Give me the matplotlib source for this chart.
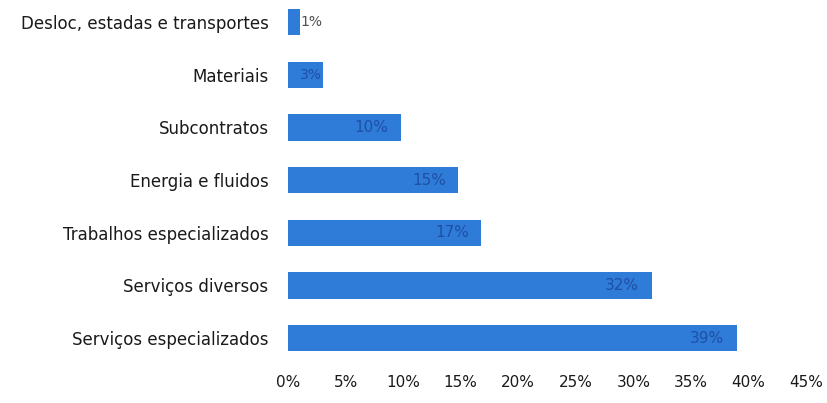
import matplotlib
matplotlib.use("Agg")
import matplotlib.pyplot as plt
from matplotlib.ticker import FuncFormatter

# Categories (top to bottom) and share of costs in %
categorias = [
    "Desloc, estadas e transportes",
    "Materiais",
    "Subcontratos",
    "Energia e fluidos",
    "Trabalhos especializados",
    "Serviços diversos",
    "Serviços especializados",
]
percentagens = [1, 3, 10, 15, 17, 32, 39]
# actual bar lengths (the labels are rounded)
valores = [1.0, 3.0, 9.8, 14.8, 16.8, 31.6, 39.0]
ticks = [0, 5, 10, 15, 20, 25, 30, 35, 40, 45]

plt.rcParams["font.family"] = ["DejaVu Sans"]

fig = plt.figure(figsize=(8.28, 4.03), dpi=100)
ax = fig.add_axes([288 / 828, 1 - 364 / 403, (806 - 288) / 828, 364 / 403])

barra = "#2e7bd8"
pos = list(range(len(categorias)))
ax.barh(pos, valores, height=0.5, color=barra)

for i, (v, p) in enumerate(zip(valores, percentagens)):
    if v < 2:
        ax.text(v + 0.1, i, f"{p}%", va="center", ha="left",
                fontsize=10, color="#505050")
    elif v < 5:
        ax.text(v - 0.1, i, f"{p}%", va="center", ha="right",
                fontsize=10, color="#1f4fa6")
    else:
        ax.text(v - 1.1, i, f"{p}%", va="center", ha="right",
                fontsize=11, color="#1f4fa6")

ax.set_xlim(0, 45)
ax.set_ylim(6.493, -0.418)
ax.set_xticks(ticks)
ax.xaxis.set_major_formatter(FuncFormatter(lambda x, _: f"{x:.0f}%"))
ax.set_yticks(pos)
ax.set_yticklabels(categorias)

for s in ax.spines.values():
    s.set_visible(False)
ax.tick_params(axis="both", length=0, colors="#1a1a1a")
ax.tick_params(axis="y", labelsize=12, pad=14)
ax.tick_params(axis="x", labelsize=11, pad=8)

fig.savefig("out.png", dpi=100)
